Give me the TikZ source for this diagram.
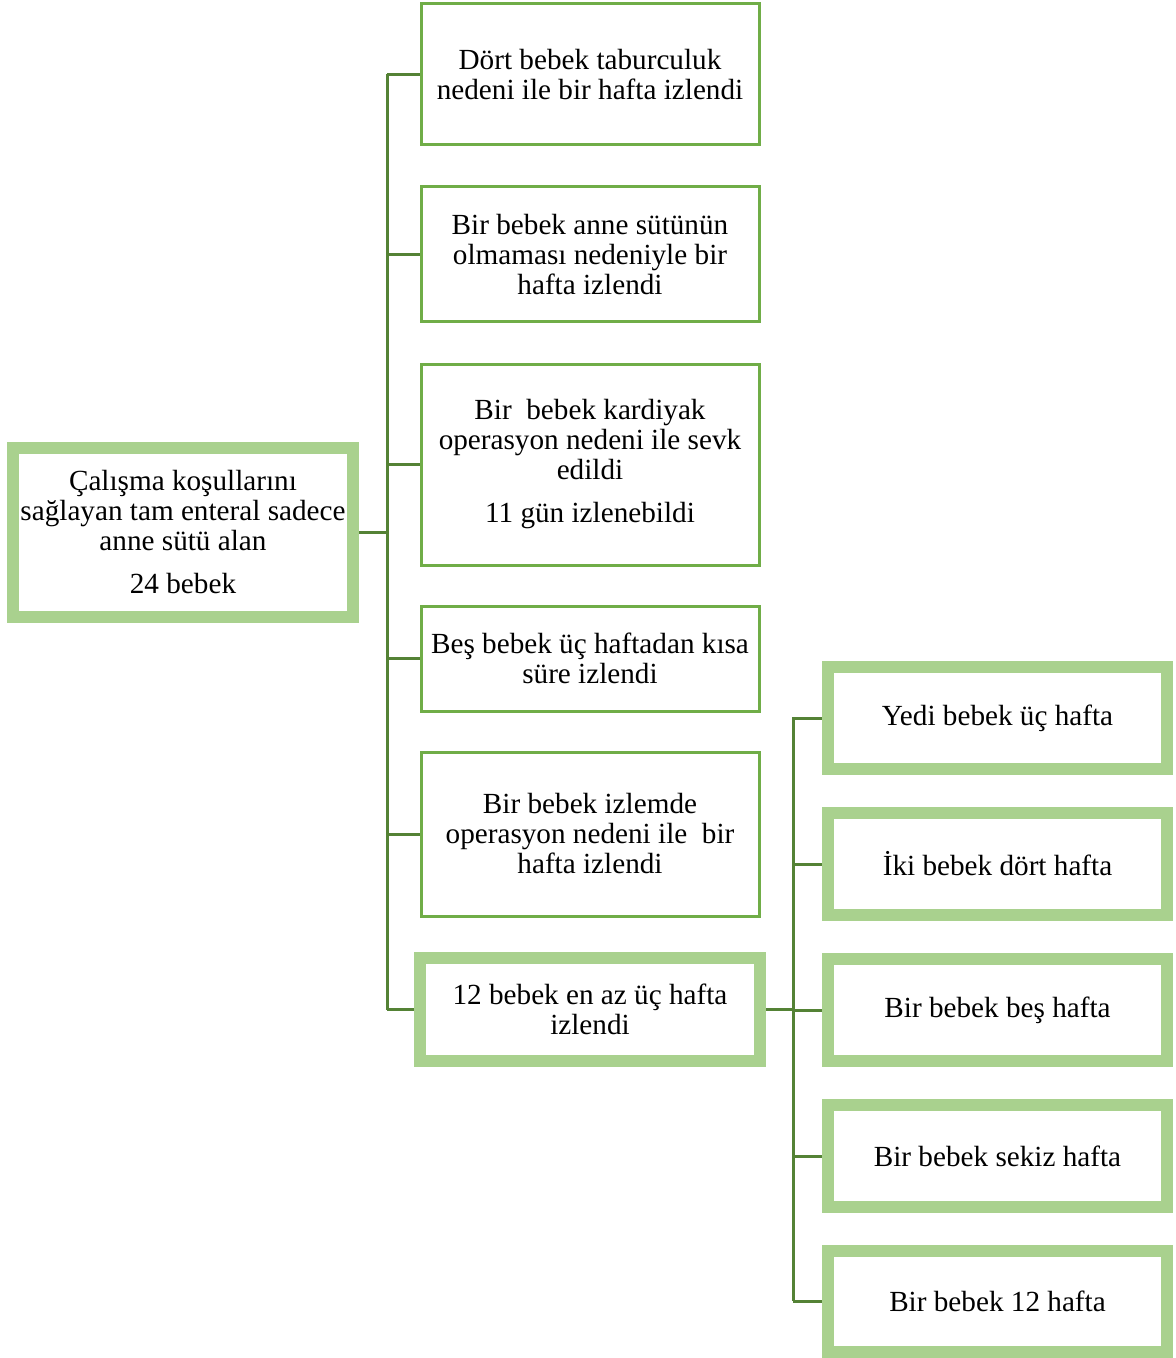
\documentclass[tikz,border=0pt]{standalone}
\usepackage{fontspec}
\setmainfont{Liberation Serif}
\usetikzlibrary{backgrounds}
\definecolor{boxgreen}{RGB}{112,173,71}
\definecolor{lightgreen}{RGB}{169,209,142}
\definecolor{conngreen}{RGB}{84,130,53}
\begin{document}
\begin{tikzpicture}[x=0.5pt,y=-0.5pt,
  thinbox/.style={draw=boxgreen,line width=1.5pt,fill=white,align=center,inner sep=0pt,
    minimum width=169pt,font=\fontsize{14.6}{15}\selectfont},
  thickbox/.style={draw=lightgreen,line width=6pt,fill=white,align=center,inner sep=0pt,
    font=\fontsize{14.6}{15}\selectfont},
  conn/.style={draw=conngreen,line width=1.5pt}]
\useasboundingbox (0,0) rectangle (1176,1358);
% root
\node[thickbox,minimum width=170pt,minimum height=84.5pt] (root) at (183,532.5)
  {Çalışma koşullarını\\sağlayan tam enteral sadece\\anne sütü alan\\[6.5pt]24 bebek};
% middle column
\node[thinbox,minimum height=70.5pt] (a1) at (590,74.5)
  {Dört bebek taburculuk\\nedeni ile bir hafta izlendi};
\node[thinbox,minimum height=67.5pt] (a2) at (590,254.5)
  {Bir bebek anne sütünün\\olmaması nedeniyle bir\\hafta izlendi};
\node[thinbox,minimum height=100.5pt] (a3) at (590,464.5)
  {Bir~ bebek kardiyak\\operasyon nedeni ile sevk\\edildi\\[6.5pt]11 gün izlenebildi};
\node[thinbox,minimum height=52.5pt] (a4) at (590,658.5)
  {Beş bebek üç haftadan kısa\\süre izlendi};
\node[thinbox,minimum height=82pt] (a5) at (590,834)
  {Bir bebek izlemde\\operasyon nedeni ile~ bir\\hafta izlendi};
\node[thickbox,minimum width=170pt,minimum height=51.5pt] (a6) at (590,1009.5)
  {12 bebek en az üç hafta\\izlendi};
% right column
\node[thickbox,minimum width=169.5pt,minimum height=51pt] (b1) at (997.5,718) {Yedi bebek üç hafta};
\node[thickbox,minimum width=169.5pt,minimum height=51pt] (b2) at (997.5,864) {İki bebek dört hafta};
\node[thickbox,minimum width=169.5pt,minimum height=51pt] (b3) at (997.5,1010) {Bir bebek beş hafta};
\node[thickbox,minimum width=169.5pt,minimum height=51pt] (b4) at (997.5,1156) {Bir bebek sekiz hafta};
\node[thickbox,minimum width=169.5pt,minimum height=50.5pt] (b5) at (997.5,1301.5) {Bir bebek 12 hafta};
% connectors
\coordinate (ta) at (387,74);
\coordinate (tb) at (387,1010);
\coordinate (tc) at (793,717);
\coordinate (td) at (793,1301);
\begin{scope}[on background layer]
\draw[conn] (ta) -- (tb);
\draw[conn] (root.east) -- (root.east -| ta);
\foreach \n in {a1,a2,a3,a4,a5,a6} \draw[conn] (\n.west) -- (\n.west -| ta);
\draw[conn] (tc) -- (td);
\draw[conn] (a6.east) -- (a6.east -| tc);
\foreach \n in {b1,b2,b3,b4,b5} \draw[conn] (\n.west) -- (\n.west -| tc);
\end{scope}
\end{tikzpicture}
\end{document}
